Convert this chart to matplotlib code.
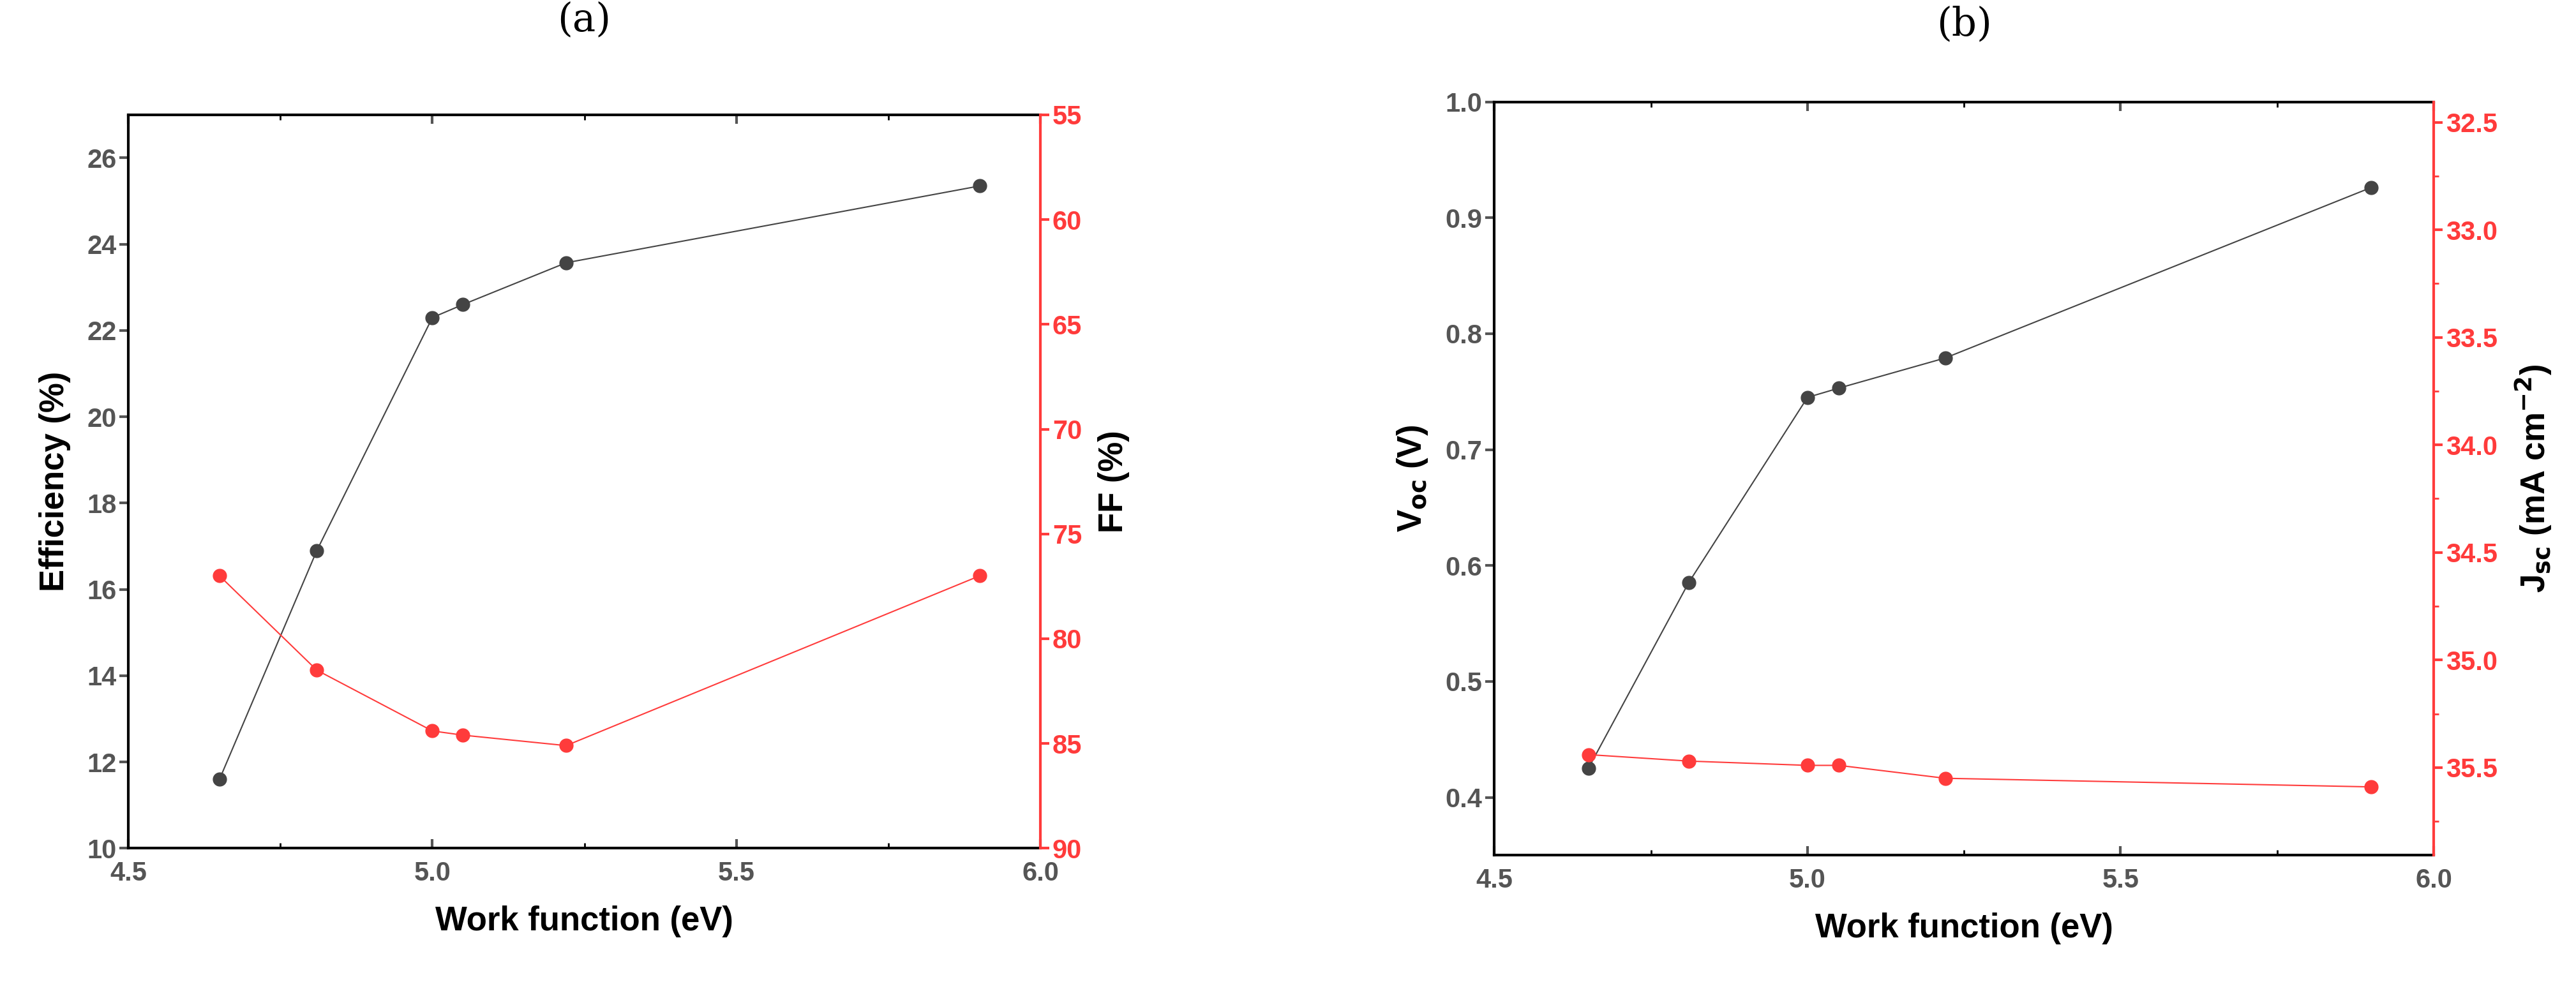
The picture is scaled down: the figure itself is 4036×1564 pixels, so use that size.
import matplotlib
matplotlib.use("Agg")
import matplotlib.pyplot as plt
from matplotlib.ticker import MultipleLocator

plt.rcParams["font.family"] = ["Liberation Sans", "DejaVu Sans"]

# ── data ─────────────────────────────────────────────
work_function = [4.65, 4.81, 5.00, 5.05, 5.22, 5.90]
efficiency = [11.6, 16.9, 22.3, 22.6, 23.57, 25.35]
fill_factor = [77.0, 81.5, 84.4, 84.6, 85.1, 77.0]
voc = [0.425, 0.585, 0.745, 0.753, 0.779, 0.926]
jsc = [35.44, 35.47, 35.49, 35.49, 35.55, 35.59]

BLACK = "#444444"
RED = "#ff3b3b"
TICK_GRAY = "#555555"

fig = plt.figure(figsize=(40.37, 15.64), dpi=100)


def style_axes(ax, ax2):
    for s in ["left", "top", "bottom"]:
        ax.spines[s].set_linewidth(3)
        ax.spines[s].set_color("black")
    ax.spines["right"].set_visible(False)
    ax2.spines["right"].set_color(RED)
    ax2.spines["right"].set_linewidth(3)
    for s in ["left", "top", "bottom"]:
        ax2.spines[s].set_visible(False)
    ax.tick_params(axis="both", labelsize=30, colors=TICK_GRAY, width=3,
                   length=10, direction="out")
    ax.tick_params(axis="x", which="both", top=True)
    ax.tick_params(axis="x", which="minor", width=2, length=6, top=True)
    ax.tick_params(axis="x", which="both", direction="in")
    ax.tick_params(axis="y", which="both", direction="out")
    ax2.tick_params(axis="y", labelsize=30, colors=RED, width=3, length=10)
    ax2.tick_params(axis="y", which="minor", colors=RED, width=2, length=6)
    for lab in ax.get_xticklabels() + ax.get_yticklabels() + ax2.get_yticklabels():
        lab.set_fontweight("bold")
    ax.set_xlim(4.5, 6.0)
    ax.xaxis.set_major_locator(MultipleLocator(0.5))
    ax.xaxis.set_minor_locator(MultipleLocator(0.25))
    ax.set_xticklabels([f"{v:.1f}" for v in ax.get_xticks()])
    for lab in ax.get_xticklabels():
        lab.set_fontweight("bold")
    ax.tick_params(axis="x", pad=14)
    ax.set_xlabel("Work function (eV)", fontsize=38, fontweight="bold", labelpad=22)


# ── (a) ──────────────────────────────────────────────
axa = fig.add_axes([0.0498, 0.150, 0.354, 0.735])
axa2 = axa.twinx()
axa.plot(work_function, efficiency, "-o", color=BLACK, lw=1.5, ms=15, zorder=3)
axa2.plot(work_function, fill_factor, "-o", color=RED, lw=1.5, ms=15)
axa.set_ylim(10, 27)
axa.yaxis.set_major_locator(MultipleLocator(2))
axa2.set_ylim(90, 55)
axa2.yaxis.set_major_locator(MultipleLocator(5))
style_axes(axa, axa2)
axa.set_ylabel("Efficiency (%)", fontsize=38, fontweight="bold", labelpad=18)
axa2.set_ylabel("FF (%)", fontsize=38, fontweight="bold", labelpad=18)
axa.set_title("(a)", fontsize=44, family="DejaVu Serif", pad=95)

# ── (b) ──────────────────────────────────────────────
axb = fig.add_axes([0.580, 0.143, 0.3645, 0.755])
axb2 = axb.twinx()
axb.plot(work_function, voc, "-o", color=BLACK, lw=1.5, ms=15, zorder=3)
axb2.plot(work_function, jsc, "-o", color=RED, lw=1.5, ms=15)
axb.set_ylim(0.35, 1.0)
axb.yaxis.set_major_locator(MultipleLocator(0.1))
axb2.set_ylim(35.908, 32.405)
axb2.yaxis.set_major_locator(MultipleLocator(0.5))
axb2.yaxis.set_minor_locator(MultipleLocator(0.25))
style_axes(axb, axb2)
axb.set_yticklabels([f"{v:.1f}" for v in axb.get_yticks()])
axb2.set_yticklabels([f"{v:.1f}" for v in axb2.get_yticks()])
for lab in axb.get_yticklabels() + axb2.get_yticklabels():
    lab.set_fontweight("bold")
axb.set_ylim(0.35, 1.0)
axb2.set_ylim(35.908, 32.405)
axb.set_ylabel(r"V$_{\mathbf{oc}}$ (V)", fontsize=38, fontweight="bold", labelpad=18)
axb2.set_ylabel(r"J$_{\mathbf{sc}}$ (mA cm$^{\mathbf{-2}}$)", fontsize=38,
                fontweight="bold", labelpad=18)
axb.set_title("(b)", fontsize=44, family="DejaVu Serif", pad=75)

fig.savefig("out.png", dpi=100)
